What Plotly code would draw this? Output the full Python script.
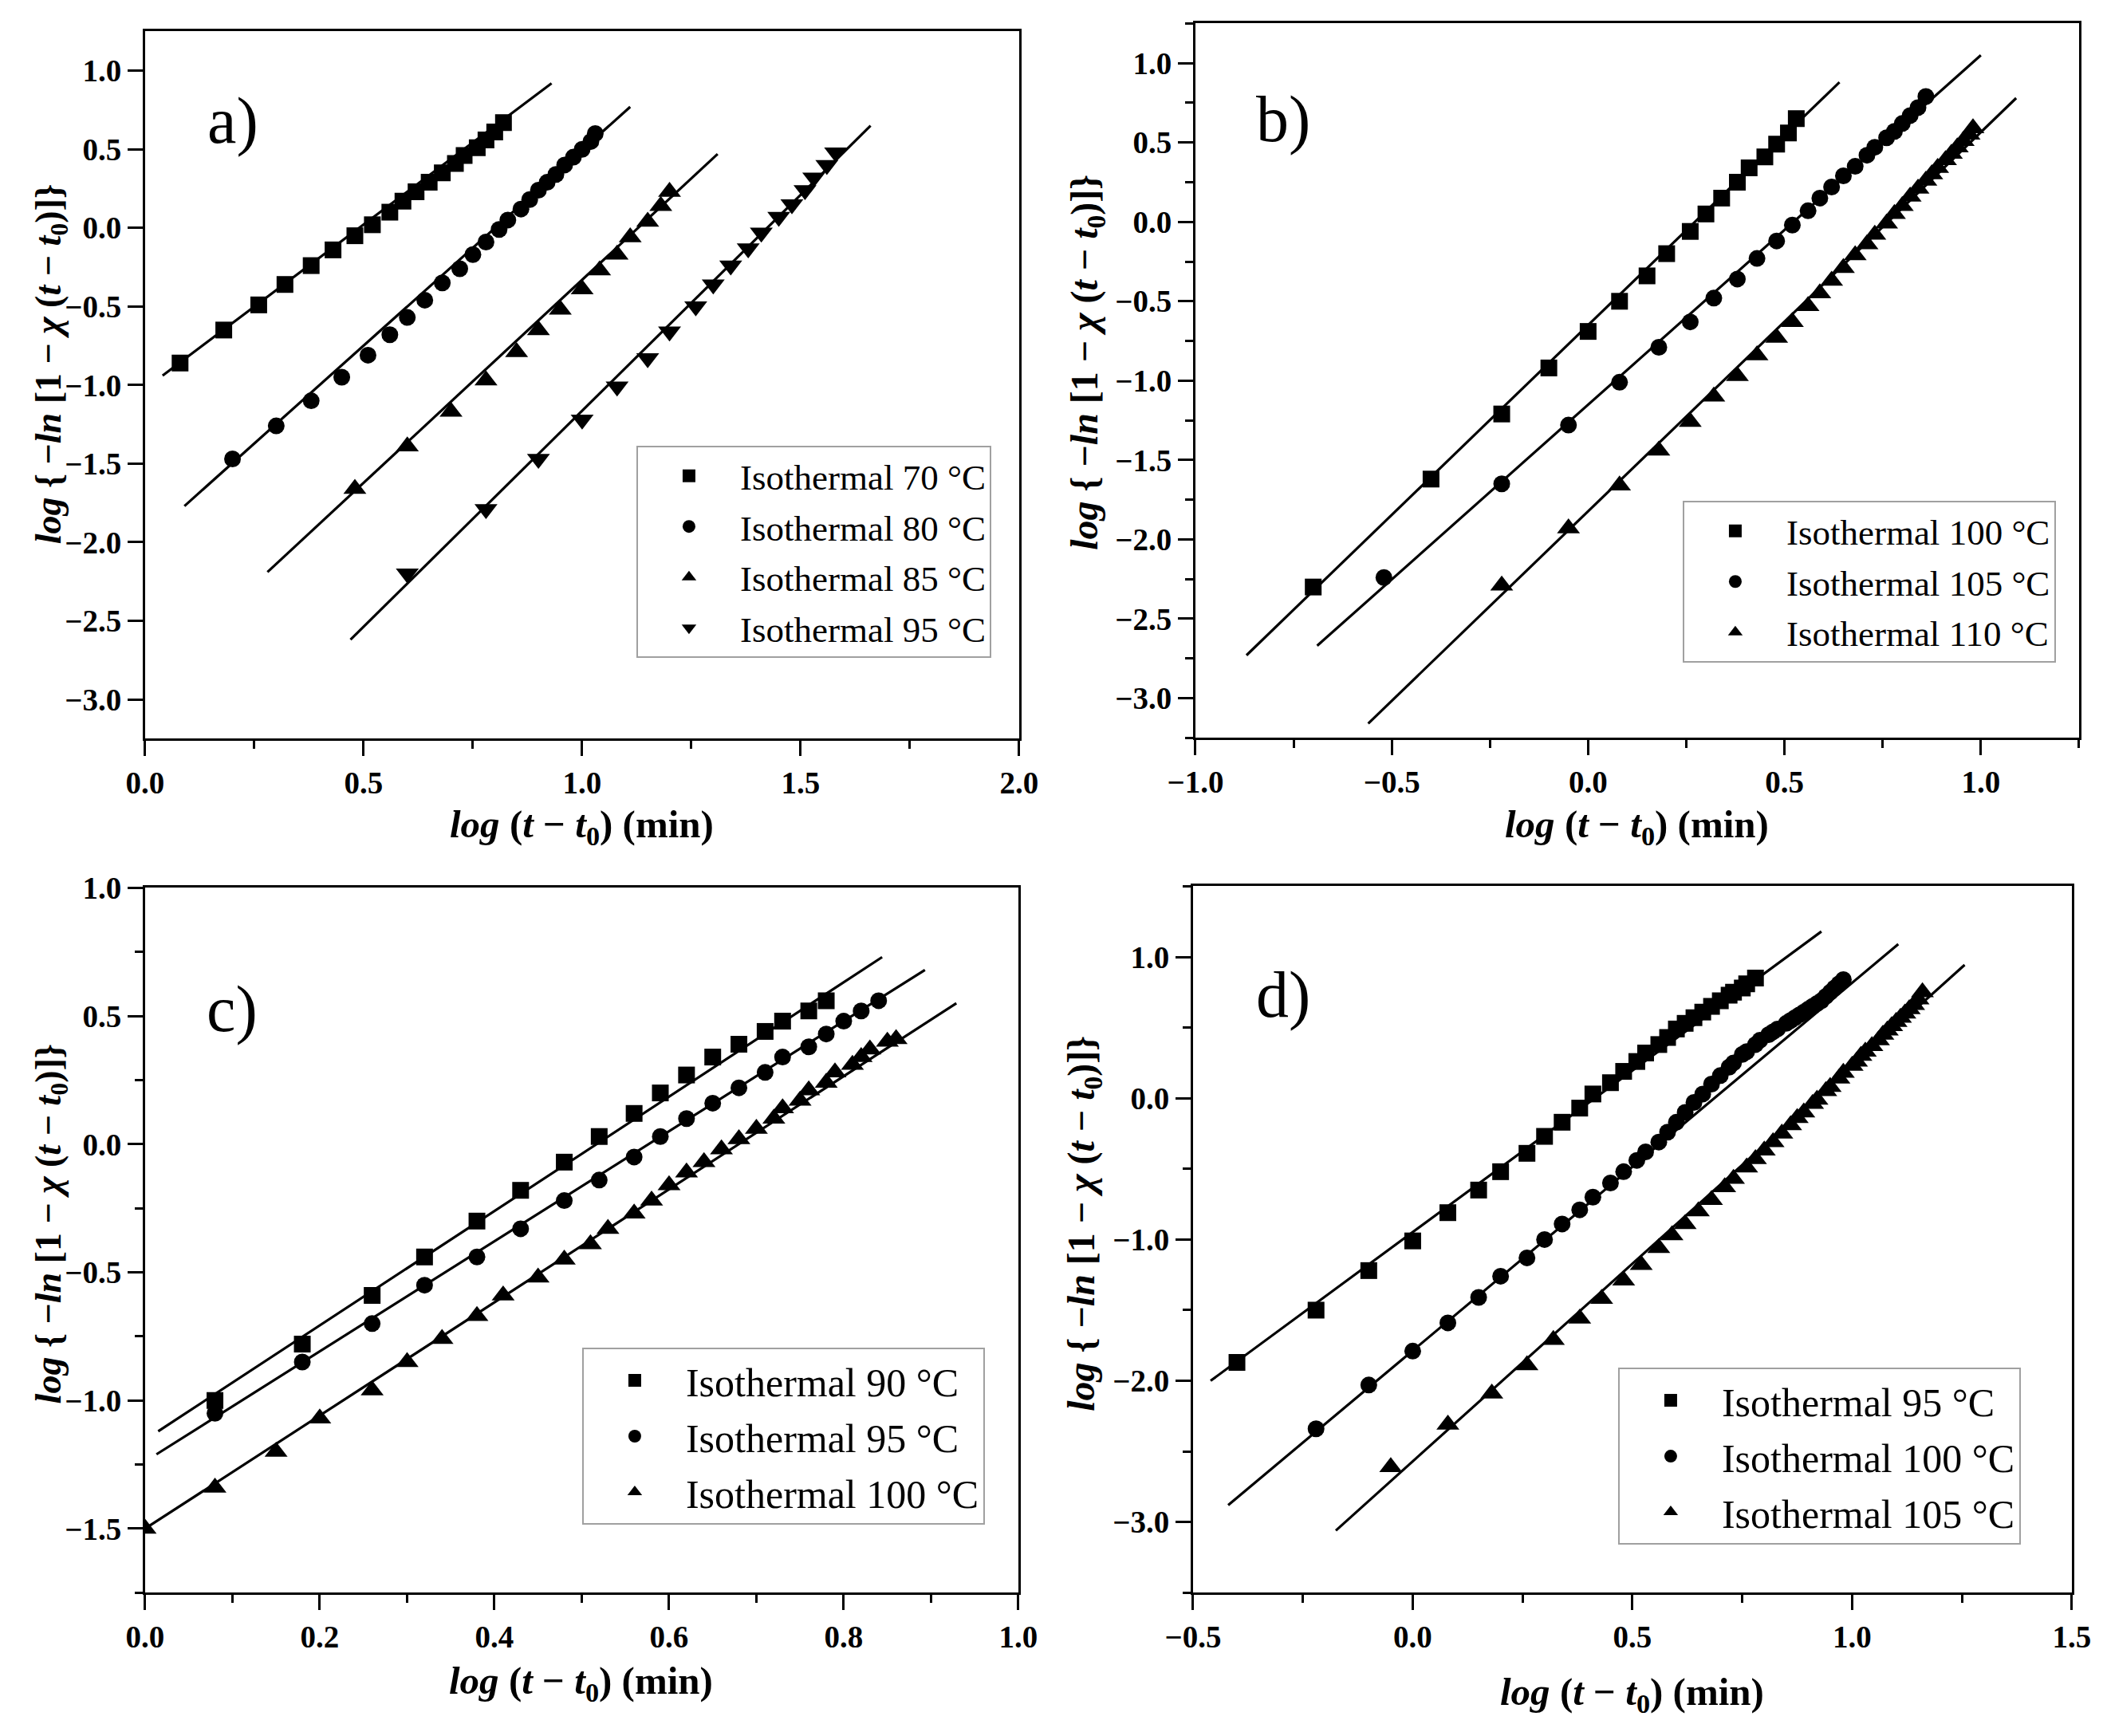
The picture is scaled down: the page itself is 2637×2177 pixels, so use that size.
import plotly.graph_objects as go

# ---- panel a) ----
a70_x = [0.08, 0.18, 0.26, 0.32, 0.38, 0.43, 0.48, 0.52, 0.56, 0.59, 0.62, 0.65, 0.68, 0.71, 0.73, 0.76, 0.78, 0.80, 0.82]
a70_y = [-0.86, -0.65, -0.49, -0.36, -0.24, -0.14, -0.05, 0.02, 0.10, 0.17, 0.23, 0.29, 0.35, 0.41, 0.46, 0.51, 0.56, 0.61, 0.67]
a80_x = [0.20, 0.30, 0.38, 0.45, 0.51, 0.56, 0.60, 0.64, 0.68, 0.72, 0.75, 0.78, 0.81, 0.83, 0.86, 0.88,
         0.90, 0.92, 0.94, 0.96, 0.98, 1.00, 1.02, 1.03]
a80_y = [-1.47, -1.26, -1.10, -0.95, -0.81, -0.68, -0.57, -0.46, -0.35, -0.26, -0.17, -0.09, -0.01, 0.05, 0.12, 0.18,
         0.24, 0.29, 0.34, 0.40, 0.45, 0.50, 0.55, 0.60]
a85_x = [0.48, 0.60, 0.70, 0.78, 0.85, 0.90, 0.95, 1.00, 1.04, 1.08, 1.11, 1.15, 1.18, 1.20]
a85_y = [-1.66, -1.39, -1.17, -0.97, -0.79, -0.65, -0.52, -0.39, -0.27, -0.17, -0.06, 0.04, 0.14, 0.23]
a95_x = [0.60, 0.78, 0.90, 1.00, 1.08, 1.15, 1.20, 1.26, 1.30, 1.34, 1.38, 1.41, 1.45, 1.48, 1.51, 1.53, 1.56, 1.58]
a95_y = [-2.20, -1.79, -1.47, -1.22, -1.01, -0.83, -0.66, -0.50, -0.36, -0.24, -0.13, -0.03, 0.07, 0.15, 0.24, 0.32, 0.40, 0.48]
a_fit_x = [[0.04, 0.93], [0.09, 1.11], [0.28, 1.31], [0.47, 1.66]]
a_fit_y = [[-0.94, 0.92], [-1.77, 0.77], [-2.19, 0.47], [-2.62, 0.65]]
a_names = ["Isothermal 70 °C", "Isothermal 80 °C", "Isothermal 85 °C", "Isothermal 95 °C"]

# ---- panel b) ----
b100_x = [-0.70, -0.40, -0.22, -0.10, 0.00, 0.08, 0.15, 0.20, 0.26, 0.30, 0.34, 0.38, 0.41, 0.45, 0.48, 0.51, 0.53]
b100_y = [-2.30, -1.62, -1.21, -0.92, -0.69, -0.50, -0.34, -0.20, -0.06, 0.05, 0.15, 0.25, 0.34, 0.41, 0.49, 0.56, 0.65]
b105_x = [-0.52, -0.22, -0.05, 0.08, 0.18, 0.26, 0.32, 0.38, 0.43, 0.48, 0.52, 0.56, 0.59, 0.62, 0.65, 0.68,
          0.71, 0.73, 0.76, 0.78, 0.80, 0.82, 0.84, 0.86]
b105_y = [-2.24, -1.65, -1.28, -1.01, -0.79, -0.63, -0.48, -0.36, -0.23, -0.12, -0.02, 0.07, 0.15, 0.22, 0.29, 0.35,
          0.42, 0.47, 0.53, 0.57, 0.62, 0.67, 0.72, 0.79]
b110_x = [-0.22, -0.05, 0.08, 0.18, 0.26, 0.32, 0.38, 0.43, 0.48, 0.52, 0.56, 0.59, 0.62, 0.65, 0.68, 0.71,
          0.73, 0.76, 0.78, 0.80, 0.82, 0.84, 0.86, 0.875, 0.89, 0.91, 0.925, 0.94, 0.955, 0.97, 0.98]
b110_y = [-2.29, -1.93, -1.66, -1.44, -1.26, -1.10, -0.97, -0.84, -0.73, -0.63, -0.53, -0.45, -0.37, -0.29, -0.21, -0.14,
          -0.08, -0.01, 0.05, 0.10, 0.16, 0.21, 0.26, 0.30, 0.34, 0.39, 0.43, 0.47, 0.51, 0.55, 0.59]
b_fit_x = [[-0.87, 0.64], [-0.69, 1.00], [-0.56, 1.09]]
b_fit_y = [[-2.73, 0.88], [-2.67, 1.05], [-3.16, 0.78]]
b_names = ["Isothermal 100 °C", "Isothermal 105 °C", "Isothermal 110 °C"]

# ---- panel c) ----
c90_x = [0.08, 0.18, 0.26, 0.32, 0.38, 0.43, 0.48, 0.52, 0.56, 0.59, 0.62, 0.65, 0.68, 0.71, 0.73, 0.76, 0.78]
c90_y = [-1.00, -0.78, -0.59, -0.44, -0.30, -0.18, -0.07, 0.03, 0.12, 0.20, 0.27, 0.34, 0.39, 0.44, 0.48, 0.52, 0.56]
c95_x = [0.08, 0.18, 0.26, 0.32, 0.38, 0.43, 0.48, 0.52, 0.56, 0.59, 0.62, 0.65, 0.68, 0.71, 0.73, 0.76,
         0.78, 0.80, 0.82, 0.84]
c95_y = [-1.05, -0.85, -0.70, -0.55, -0.44, -0.33, -0.22, -0.14, -0.05, 0.03, 0.10, 0.16, 0.22, 0.28, 0.34, 0.38,
         0.43, 0.48, 0.52, 0.56]
c100_x = [0.00, 0.08, 0.15, 0.20, 0.26, 0.30, 0.34, 0.38, 0.41, 0.45, 0.48, 0.51, 0.53, 0.56, 0.58, 0.60,
          0.62, 0.64, 0.66, 0.68, 0.70, 0.72, 0.73, 0.75, 0.76, 0.78, 0.79, 0.81, 0.82, 0.83, 0.85, 0.86]
c100_y = [-1.50, -1.34, -1.20, -1.07, -0.96, -0.85, -0.76, -0.67, -0.59, -0.52, -0.45, -0.39, -0.33, -0.27, -0.22, -0.16,
          -0.11, -0.07, -0.02, 0.02, 0.06, 0.10, 0.14, 0.17, 0.21, 0.24, 0.28, 0.31, 0.34, 0.37, 0.40, 0.41]
c_fit_x = [[0.015, 0.844], [0.013, 0.893], [0.0, 0.929]]
c_fit_y = [[-1.12, 0.73], [-1.21, 0.68], [-1.50, 0.55]]
c_names = ["Isothermal 90 °C", "Isothermal 95 °C", "Isothermal 100 °C"]

# ---- panel d) ----
d95_x = [-0.40, -0.22, -0.10, 0.00, 0.08, 0.15, 0.20, 0.26, 0.30, 0.34, 0.38, 0.41, 0.45, 0.48, 0.51,
         0.53, 0.56, 0.58, 0.60, 0.62, 0.64, 0.66, 0.68, 0.70, 0.72, 0.73, 0.75, 0.76, 0.78]
d95_y = [-1.87, -1.50, -1.22, -1.01, -0.81, -0.65, -0.52, -0.39, -0.27, -0.17, -0.07, 0.03, 0.11, 0.19, 0.26,
         0.32, 0.38, 0.43, 0.49, 0.53, 0.57, 0.61, 0.65, 0.69, 0.73, 0.75, 0.78, 0.81, 0.85]
d100_x = [-0.22, -0.10, 0.00, 0.08, 0.15, 0.20, 0.26, 0.30, 0.34, 0.38, 0.41, 0.45, 0.48, 0.51, 0.53, 0.56,
          0.58, 0.60, 0.62, 0.64, 0.66, 0.68, 0.70, 0.72, 0.73, 0.75, 0.76, 0.78, 0.79, 0.81, 0.82, 0.83,
          0.85, 0.86, 0.87, 0.88, 0.89, 0.90, 0.91, 0.92, 0.93, 0.94, 0.95, 0.96, 0.97, 0.98]
d100_y = [-2.34, -2.03, -1.79, -1.59, -1.41, -1.26, -1.13, -1.00, -0.89, -0.79, -0.70, -0.60, -0.52, -0.44, -0.38, -0.31,
          -0.24, -0.17, -0.10, -0.03, 0.03, 0.10, 0.16, 0.22, 0.25, 0.31, 0.33, 0.38, 0.41, 0.45, 0.47, 0.49,
          0.53, 0.55, 0.57, 0.59, 0.61, 0.63, 0.65, 0.67, 0.69, 0.72, 0.75, 0.78, 0.81, 0.84]
d105_x = [-0.05, 0.08, 0.18, 0.26, 0.32, 0.38, 0.43, 0.48, 0.52, 0.56, 0.59, 0.62, 0.65, 0.68, 0.71, 0.73,
          0.76, 0.78, 0.80, 0.82, 0.84, 0.86, 0.875, 0.89, 0.91, 0.92, 0.94, 0.95, 0.97, 0.98, 1.00, 1.01,
          1.02, 1.03, 1.045, 1.06, 1.07, 1.08, 1.09, 1.10, 1.11, 1.12, 1.13, 1.14, 1.15, 1.16]
d105_y = [-2.61, -2.31, -2.09, -1.89, -1.71, -1.56, -1.42, -1.29, -1.18, -1.06, -0.97, -0.89, -0.80, -0.72, -0.63, -0.57,
          -0.49, -0.43, -0.37, -0.31, -0.25, -0.19, -0.14, -0.10, -0.04, -0.01, 0.05, 0.08, 0.14, 0.18, 0.23, 0.26,
          0.30, 0.33, 0.37, 0.41, 0.45, 0.48, 0.51, 0.54, 0.57, 0.60, 0.63, 0.66, 0.70, 0.75]
d_fit_x = [[-0.46, 0.93], [-0.42, 1.105], [-0.175, 1.256]]
d_fit_y = [[-2.00, 1.18], [-2.88, 1.09], [-3.06, 0.944]]
d_names = ["Isothermal 95 °C", "Isothermal 100 °C", "Isothermal 105 °C"]

SERIF = "Liberation Serif"
X_TITLE = "<b><i>log</i> (<i>t</i> − <i>t</i><sub>0</sub>) (min)</b>"
Y_TITLE = "<b><i>log</i> { −<i>ln</i> [1 − <i>χ</i> (<i>t</i> − <i>t</i><sub>0</sub>)]}</b>"
SIZES = {"square": 21, "circle": 21, "triangle-up": 25, "triangle-down": 25}
W, H = 2637, 2177


def fx(px):
    """reference pixel column -> paper fraction (the photographed page sits slightly inset)"""
    return (0.5946 * px - 25.0) / 0.5813 / W


def fy(py):
    """reference pixel row -> paper fraction measured from the bottom"""
    return 1 - (0.5946 * py - 16.4) / 0.5883 / H


def make_axis(rng, dtick, minor_dtick, domain, anchor):
    """axis with a closed black frame and outside ticks"""
    ax = dict(range=rng, domain=domain, anchor=anchor, dtick=dtick, tick0=0, tickformat=".1f",
              showline=True, mirror=True, linecolor="black", linewidth=3,
              ticks="outside", ticklen=19, tickwidth=3, tickcolor="black",
              showgrid=False, zeroline=False,
              tickfont=dict(family=SERIF, size=39, color="black", weight="bold"))
    if minor_dtick:
        ax["minor"] = dict(dtick=minor_dtick, tick0=0, ticks="outside", ticklen=10, tickwidth=3,
                           tickcolor="black", showgrid=False)
    return ax


def add_panel(fig, n, series, fits, names, symbols, legend):
    suffix = "" if n == 1 else str(n)
    for fxs, fys in zip(*fits):
        fig.add_trace(go.Scatter(x=fxs, y=fys, mode="lines", line=dict(color="black", width=3.2),
                                 showlegend=False, hoverinfo="skip",
                                 xaxis="x" + suffix, yaxis="y" + suffix))
    for (sx, sy), name, sym in zip(series, names, symbols):
        fig.add_trace(go.Scatter(x=sx, y=sy, mode="markers", name=name,
                                 marker=dict(symbol=sym, size=SIZES[sym], color="black", line=dict(width=0)),
                                 legend=legend, legendgroup=legend + name,
                                 xaxis="x" + suffix, yaxis="y" + suffix))


def legend_box(right, top, size, gap):
    return dict(x=fx(right), y=fy(top), xanchor="right", yanchor="top", xref="paper", yref="paper",
                bgcolor="white", bordercolor="#a0a0a0", borderwidth=2,
                font=dict(family=SERIF, size=size, color="black"),
                itemwidth=118, traceorder="grouped", tracegroupgap=gap)


def create_plot():
    fig = go.Figure()
    add_panel(fig, 1, [(a70_x, a70_y), (a80_x, a80_y), (a85_x, a85_y), (a95_x, a95_y)],
              (a_fit_x, a_fit_y), a_names, ["square", "circle", "triangle-up", "triangle-down"], "legend")
    add_panel(fig, 2, [(b100_x, b100_y), (b105_x, b105_y), (b110_x, b110_y)],
              (b_fit_x, b_fit_y), b_names, ["square", "circle", "triangle-up"], "legend2")
    add_panel(fig, 3, [(c90_x, c90_y), (c95_x, c95_y), (c100_x, c100_y)],
              (c_fit_x, c_fit_y), c_names, ["square", "circle", "triangle-up"], "legend3")
    add_panel(fig, 4, [(d95_x, d95_y), (d100_x, d100_y), (d105_x, d105_y)],
              (d_fit_x, d_fit_y), d_names, ["square", "circle", "triangle-up"], "legend4")

    # plot frames in reference pixels: left, right, top, bottom
    boxes = [(181, 1277, 38, 924), (1498, 2606, 28, 923), (181, 1276, 1111, 1994), (1495, 2597, 1109, 1994)]
    dom = [([fx(l), fx(r)], [fy(b), fy(t)]) for l, r, t, b in boxes]

    fig.update_layout(
        width=W, height=H, margin=dict(l=0, r=0, t=0, b=0),
        paper_bgcolor="white", plot_bgcolor="white",
        xaxis=make_axis([0, 2], 0.5, 0.25, dom[0][0], "y"),
        yaxis=make_axis([-3.25, 1.25], 0.5, None, dom[0][1], "x"),
        xaxis2=make_axis([-1, 1.25], 0.5, 0.25, dom[1][0], "y2"),
        yaxis2=make_axis([-3.25, 1.25], 0.5, 0.25, dom[1][1], "x2"),
        xaxis3=make_axis([0, 1], 0.2, 0.1, dom[2][0], "y3"),
        yaxis3=make_axis([-1.75, 1.0], 0.5, 0.25, dom[2][1], "x3"),
        xaxis4=make_axis([-0.5, 1.5], 0.5, 0.25, dom[3][0], "y4"),
        yaxis4=make_axis([-3.5, 1.5], 1.0, 0.5, dom[3][1], "x4"),
        legend=legend_box(1242, 557, 45, 2),
        legend2=legend_box(2577, 626, 45, 2),
        legend3=legend_box(1234, 1687, 50, 2),
        legend4=legend_box(2533, 1712, 50, 2),
    )

    # panel letters
    letters = [("a)", 257, 150), ("b)", 1572, 148), ("c)", 256, 1263), ("d)", 1572, 1245)]
    for text, lx, ly in letters:
        fig.add_annotation(text=text, xref="paper", yref="paper", x=fx(lx), y=fy(ly),
                           xanchor="left", yanchor="middle", showarrow=False,
                           font=dict(family=SERIF, size=82, color="black"))

    # axis titles
    x_titles = [(729, 1034), (2052, 1034), (728, 2107), (2046, 2121)]
    for tx, ty in x_titles:
        fig.add_annotation(text=X_TITLE, xref="paper", yref="paper", x=fx(tx), y=fy(ty),
                           xanchor="center", yanchor="middle", showarrow=False,
                           font=dict(family=SERIF, size=49, color="black"))
    # the left column titles are kept just inside the page edge, clear of the tick labels
    y_titles = [(21 / W, 455, 46), (fx(1362), 452, 48), (21 / W, 1532, 46), (fx(1358), 1531, 48)]
    for tx, ty, fs in y_titles:
        fig.add_annotation(text=Y_TITLE, xref="paper", yref="paper", x=tx, y=fy(ty), textangle=-90,
                           xanchor="center", yanchor="middle", showarrow=False,
                           font=dict(family=SERIF, size=fs, color="black"))

    fig.write_html("out.html")


if __name__ == "__main__":
    create_plot()
